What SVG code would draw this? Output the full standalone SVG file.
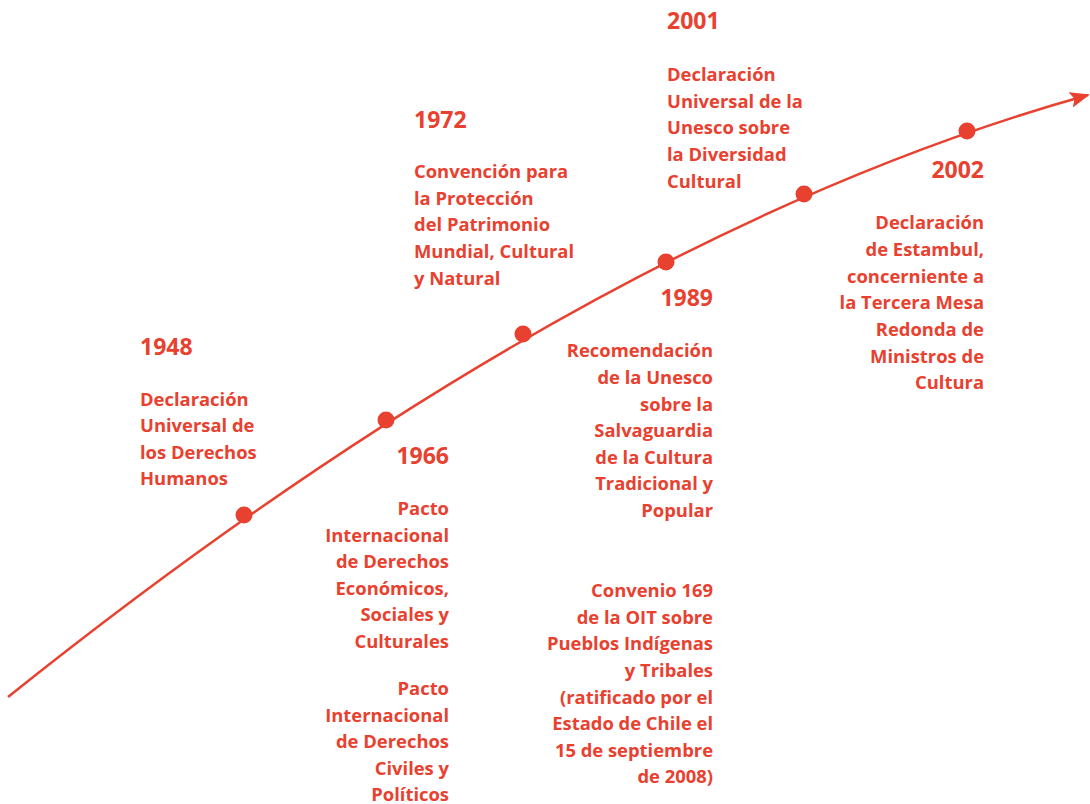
<svg xmlns="http://www.w3.org/2000/svg" width="1090" height="804" viewBox="0 0 1090 804">
<style>
.t{font-family:"Open Sans","Noto Sans","Liberation Sans",sans-serif;font-weight:700;fill:#E8412F;font-size:18.4px}
.y{font-family:"Open Sans","Noto Sans","Liberation Sans",sans-serif;font-weight:700;fill:#E8412F;font-size:23px}
.r{text-anchor:end}
.dot{fill:#E8412F}
</style>
<defs>
<marker id="ah2" viewBox="0 0 20 16" refX="18" refY="8" markerWidth="20" markerHeight="16" markerUnits="userSpaceOnUse" orient="auto">
<path d="M0,0 L20,8 L0,16 L4,8 z" fill="#E8412F"/>
</marker>
</defs>
<g id="connectors">
<path d="M8,697 Q584,236 1088,95" fill="none" stroke="#E8412F" stroke-width="2.5" marker-end="url(#ah2)"/>
</g>
<g id="n1948">
<circle class="dot" cx="244" cy="515" r="8.5"/>
<text class="y" x="140" y="355">1948</text>
<text class="t" x="140" y="406">Declaración</text>
<text class="t" x="140" y="432">Universal de</text>
<text class="t" x="140" y="459">los Derechos</text>
<text class="t" x="140" y="485">Humanos</text>
</g>
<g id="n1966">
<circle class="dot" cx="386" cy="420" r="8.5"/>
<text class="y r" x="449" y="464">1966</text>
<text class="t r" x="449" y="515">Pacto</text>
<text class="t r" x="449" y="542">Internacional</text>
<text class="t r" x="449" y="568">de Derechos</text>
<text class="t r" x="449" y="595">Económicos,</text>
<text class="t r" x="449" y="621">Sociales y</text>
<text class="t r" x="449" y="648">Culturales</text>
<text class="t r" x="449" y="695">Pacto</text>
<text class="t r" x="449" y="722">Internacional</text>
<text class="t r" x="449" y="748">de Derechos</text>
<text class="t r" x="449" y="775">Civiles y</text>
<text class="t r" x="449" y="801">Políticos</text>
</g>
<g id="n1972">
<circle class="dot" cx="523" cy="334" r="8.5"/>
<text class="y" x="414" y="128">1972</text>
<text class="t" x="414" y="178">Convención para</text>
<text class="t" x="414" y="205">la Protección</text>
<text class="t" x="414" y="231">del Patrimonio</text>
<text class="t" x="414" y="258">Mundial, Cultural</text>
<text class="t" x="414" y="285">y Natural</text>
</g>
<g id="n1989">
<circle class="dot" cx="666" cy="262" r="8.5"/>
<text class="y r" x="713" y="306">1989</text>
<text class="t r" x="713" y="357">Recomendación</text>
<text class="t r" x="713" y="384">de la Unesco</text>
<text class="t r" x="713" y="411">sobre la</text>
<text class="t r" x="713" y="437">Salvaguardia</text>
<text class="t r" x="713" y="464">de la Cultura</text>
<text class="t r" x="713" y="490">Tradicional y</text>
<text class="t r" x="713" y="517">Popular</text>
<text class="t r" x="713" y="597">Convenio 169</text>
<text class="t r" x="713" y="624">de la OIT sobre</text>
<text class="t r" x="713" y="650">Pueblos Indígenas</text>
<text class="t r" x="713" y="677">y Tribales</text>
<text class="t r" x="713" y="704">(ratificado por el</text>
<text class="t r" x="713" y="730">Estado de Chile el</text>
<text class="t r" x="713" y="757">15 de septiembre</text>
<text class="t r" x="713" y="783">de 2008)</text>
</g>
<g id="n2001">
<circle class="dot" cx="804" cy="194" r="8.5"/>
<text class="y" x="667" y="29">2001</text>
<text class="t" x="667" y="81">Declaración</text>
<text class="t" x="667" y="108">Universal de la</text>
<text class="t" x="667" y="134">Unesco sobre</text>
<text class="t" x="667" y="161">la Diversidad</text>
<text class="t" x="667" y="188">Cultural</text>
</g>
<g id="n2002">
<circle class="dot" cx="967" cy="131" r="8.5"/>
<text class="y r" x="984" y="178">2002</text>
<text class="t r" x="984" y="229">Declaración</text>
<text class="t r" x="984" y="256">de Estambul,</text>
<text class="t r" x="984" y="283">concerniente a</text>
<text class="t r" x="984" y="309">la Tercera Mesa</text>
<text class="t r" x="984" y="336">Redonda de</text>
<text class="t r" x="984" y="363">Ministros de</text>
<text class="t r" x="984" y="389">Cultura</text>
</g>
</svg>
